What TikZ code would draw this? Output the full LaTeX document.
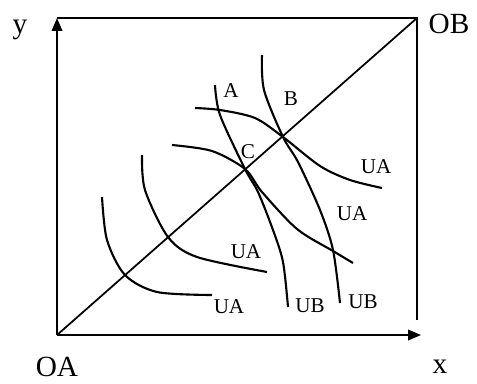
\documentclass[tikz,border=0pt]{standalone}
\usepackage{fontspec}
\setmainfont{Liberation Serif}
\usetikzlibrary{arrows.meta}

\begin{document}
\begin{tikzpicture}[
    x=0.03cm, y=-0.03cm,
    frame/.style={line width=1.5pt},
    axis/.style={line width=1.5pt, -{Triangle[length=11pt, width=9pt]}},
    curve/.style={line width=1.8pt, smooth},
    big/.style={font=\fontsize{25}{28}\selectfont, anchor=base},
    tag/.style={font=\fontsize{18}{21}\selectfont, anchor=base}
]
    \useasboundingbox (0,0) rectangle (477,383);
    \coordinate (oa) at (57,335);
    \coordinate (ob) at (417,18);
    \coordinate (tl) at (57,18);
    \coordinate (xend) at (421,335);
    \coordinate (rend) at (417,320);
    \coordinate (B) at (283,137);
    \coordinate (C) at (245,169);

    % axes and box
    \draw[axis] (oa) -- (tl);
    \draw[axis] (oa) -- (xend);
    \draw[frame] (tl) -- (ob) -- (rend);
    \draw[frame] (oa) -- (ob);

    % curves of A
    \draw[curve] plot coordinates {(102,197) (107,240) (125,275) (157,292) (212,295)};
    \draw[curve] plot coordinates {(142,155) (145,190) (168,237) (197,257) (267,272)};
    \draw[curve] plot coordinates {(172,145) (212,151) (C) (262,192) (297,229) (333,251) (353,263)};
    \draw[curve] plot coordinates {(195,108) (220,110) (255,118) (B) (320,166) (350,180) (382,188)};

    % curves of B
    \draw[curve] plot coordinates {(215,85) (220,115) (C) (258,192) (273,230) (283,262) (288,307)};
    \draw[curve] plot coordinates {(262,55) (264,90) (B) (298,162) (320,210) (333,250) (340,303)};

    % labels
    \node[big] (ly) at (20,33) {y};
    \node[big] (lob) at (449,33) {OB};
    \node[big] (loa) at (57,376) {OA};
    \node[big] (lx) at (440,373) {x};
    \node[tag] (la) at (231,97) {A};
    \node[tag] (lb) at (291,105) {B};
    \node[tag] (lc) at (248,158) {C};
    \node[tag] (ua4) at (376,173) {UA};
    \node[tag] (ua3) at (352,220) {UA};
    \node[tag] (ua2) at (246,258) {UA};
    \node[tag] (ua1) at (229,313) {UA};
    \node[tag] (ub1) at (310,312) {UB};
    \node[tag] (ub2) at (363,308) {UB};
\end{tikzpicture}
\end{document}
